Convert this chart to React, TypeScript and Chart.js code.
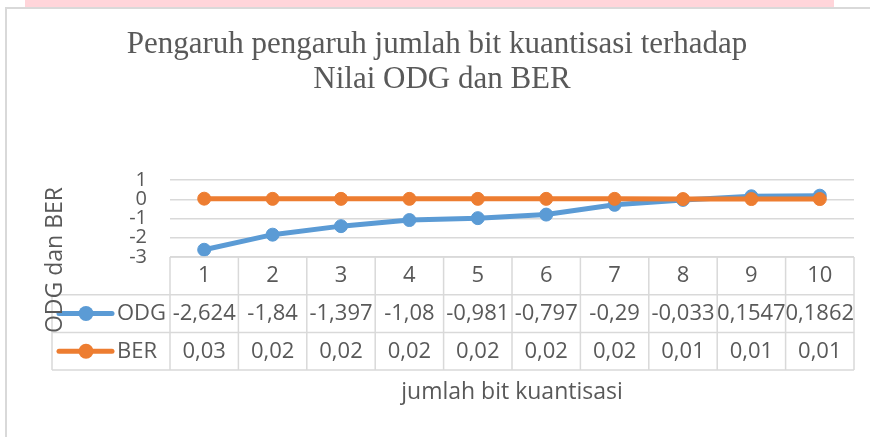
import React, { useEffect, useRef } from "react";
import { Chart, registerables } from "chart.js";

Chart.register(...registerables);

const categories = ["1", "2", "3", "4", "5", "6", "7", "8", "9", "10"];
const odgValues = [-2.624, -1.84, -1.397, -1.08, -0.981, -0.797, -0.29, -0.033, 0.1547, 0.1862];
const berValues = [0.03, 0.02, 0.02, 0.02, 0.02, 0.02, 0.02, 0.01, 0.01, 0.01];
const odgLabels = ["-2,624", "-1,84", "-1,397", "-1,08", "-0,981", "-0,797", "-0,29", "-0,033", "0,1547", "0,1862"];
const berLabels = ["0,03", "0,02", "0,02", "0,02", "0,02", "0,02", "0,02", "0,01", "0,01", "0,01"];
const titleLines = ["Pengaruh pengaruh jumlah bit kuantisasi terhadap", "Nilai ODG dan BER"];
const yAxisTitle = "ODG dan BER";
const xAxisTitle = "jumlah bit kuantisasi";
const seriesNames = ["ODG", "BER"];

const BLUE = "#5B9BD5";
const ORANGE = "#ED7D31";
const TEXT = "#595959";
const GRID = "#D9D9D9";
const SANS = "'Open Sans', sans-serif";

const tablePlugin = {
  id: "excelTable",
  afterDraw(chart: any) {
    const ctx = chart.ctx as CanvasRenderingContext2D;
    const area = chart.chartArea;
    const xs = chart.scales.x;
    const n = categories.length;
    const colW = (area.right - area.left) / n;
    const rowH = 37.7;
    const top = area.bottom;
    const legendLeft = 52;

    ctx.save();
    // pink band
    ctx.fillStyle = "#FFD5DA";
    ctx.fillRect(25, 0, 809, 7);
    // chart border
    ctx.strokeStyle = GRID;
    ctx.lineWidth = 2;
    ctx.beginPath();
    ctx.moveTo(6, 437);
    ctx.lineTo(6, 8);
    ctx.lineTo(870, 8);
    ctx.stroke();

    // title
    ctx.fillStyle = TEXT;
    ctx.font = "31px 'Liberation Serif', serif";
    ctx.textAlign = "center";
    ctx.textBaseline = "middle";
    ctx.fillText(titleLines[0], 437, 45);
    ctx.fillText(titleLines[1], 442, 80);

    // table grid
    ctx.strokeStyle = GRID;
    ctx.lineWidth = 1.5;
    ctx.beginPath();
    for (let i = 0; i <= n; i++) {
      const x = area.left + i * colW;
      ctx.moveTo(x, top);
      ctx.lineTo(x, top + 3 * rowH);
    }
    ctx.moveTo(area.left, top);
    ctx.lineTo(area.right, top);
    for (let r = 1; r <= 3; r++) {
      ctx.moveTo(legendLeft, top + r * rowH);
      ctx.lineTo(area.right, top + r * rowH);
    }
    ctx.moveTo(legendLeft, top + rowH);
    ctx.lineTo(legendLeft, top + 3 * rowH);
    ctx.stroke();

    // table text
    ctx.fillStyle = TEXT;
    ctx.font = `22px ${SANS}`;
    ctx.textAlign = "center";
    ctx.textBaseline = "middle";
    for (let i = 0; i < n; i++) {
      const cx = xs.getPixelForValue(i);
      ctx.fillText(categories[i], cx, top + rowH * 0.5);
      ctx.fillText(odgLabels[i], cx, top + rowH * 1.5);
      ctx.fillText(berLabels[i], cx, top + rowH * 2.5);
    }

    // legend keys
    const colors = [BLUE, ORANGE];
    for (let r = 0; r < 2; r++) {
      const cy = top + rowH * (1.5 + r);
      ctx.strokeStyle = colors[r];
      ctx.lineWidth = 5;
      ctx.lineCap = "round";
      ctx.beginPath();
      ctx.moveTo(59, cy);
      ctx.lineTo(112, cy);
      ctx.stroke();
      ctx.fillStyle = colors[r];
      ctx.beginPath();
      ctx.arc(86, cy, 7.5, 0, Math.PI * 2);
      ctx.fill();
      ctx.fillStyle = TEXT;
      ctx.textAlign = "left";
      ctx.fillText(seriesNames[r], 117, cy);
    }

    // axis titles
    ctx.font = `23px ${SANS}`;
    ctx.textAlign = "center";
    ctx.fillText(xAxisTitle, (area.left + area.right) / 2, 392);
    ctx.save();
    ctx.translate(55, 260);
    ctx.rotate(-Math.PI / 2);
    ctx.fillText(yAxisTitle, 0, 0);
    ctx.restore();

    ctx.restore();
  },
};

export default function App() {
  const ref = useRef<HTMLCanvasElement | null>(null);

  useEffect(() => {
    if (!ref.current) return;
    const chart = new Chart(ref.current, {
      type: "line",
      data: {
        labels: categories,
        datasets: [
          {
            label: seriesNames[0],
            data: odgValues,
            borderColor: BLUE,
            backgroundColor: BLUE,
            pointBackgroundColor: BLUE,
            pointBorderColor: BLUE,
            borderWidth: 5,
            pointRadius: 6.5,
            pointBorderWidth: 1,
            order: 1,
          },
          {
            label: seriesNames[1],
            data: berValues,
            borderColor: ORANGE,
            backgroundColor: ORANGE,
            pointBackgroundColor: ORANGE,
            pointBorderColor: ORANGE,
            borderWidth: 5,
            pointRadius: 6.5,
            pointBorderWidth: 1,
            order: 0,
          },
        ],
      },
      options: {
        responsive: false,
        animation: false,
        layout: { padding: { left: 0, top: 180, right: 16, bottom: 180 } },
        plugins: {
          legend: { display: false },
          title: { display: false },
          tooltip: { enabled: false },
        },
        scales: {
          x: { display: false, offset: true },
          y: {
            min: -3,
            max: 1,
            afterFit: (s: any) => {
              s.width = 170;
            },
            ticks: {
              stepSize: 1,
              autoSkip: false,
              color: TEXT,
              font: { family: SANS, size: 20 },
              padding: 23,
            },
            grid: { color: GRID, lineWidth: 1.5, drawTicks: false },
            border: { display: false },
          },
        },
      },
      plugins: [tablePlugin],
    });
    return () => chart.destroy();
  }, []);

  return (
    <div style={{ position: "fixed", left: 0, top: 0, width: 870, height: 437, background: "#fff" }}>
      <canvas ref={ref} width={870} height={437} />
    </div>
  );
}
